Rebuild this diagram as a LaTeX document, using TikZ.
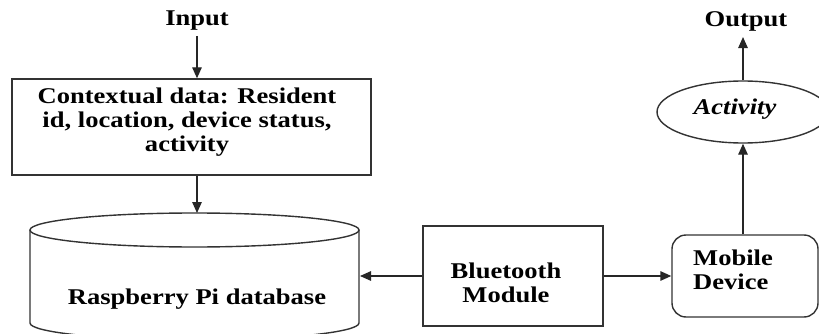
\documentclass[tikz,border=0pt]{standalone}
\usepackage{fontspec}
\setmainfont{Liberation Serif}[FakeStretch=1.18]
\usetikzlibrary{arrows.meta,shapes.geometric,calc}
\begin{document}
\begin{tikzpicture}[x=1pt,y=-1pt,
  every node/.append style={font=\fontsize{22.5}{24}\selectfont\bfseries},
  box/.style={draw=black!80, line width=1.4pt},
  arr/.style={draw=black!85, line width=1.4pt, -{Triangle[length=11pt,width=9.5pt]}},
  lbl/.style={inner sep=0pt, align=center}]
\useasboundingbox (0,0) rectangle (819,334);
% nodes
\node[lbl] (input) at (197,21) {Input};
\node[box, minimum width=359pt, minimum height=96pt] (ctx) at (191.5,127) {};
\node[lbl] (ctxt) at (187,122) {Contextual data: Resident\\id, location, device status,\\activity};
% database cylinder
\coordinate (dbtop) at (197,213);
\coordinate (dbright) at (360,276);
\draw[box] (194.5,230) ellipse [x radius=164.5pt, y radius=17pt];
\draw[box] (30,230) -- (30,323) arc[start angle=180, end angle=360, x radius=164.5pt, y radius=17pt] -- (359,230);
\node[lbl] (db) at (197,299) {Raspberry Pi database};
% bluetooth
\node[box, minimum width=180pt, minimum height=100pt] (bt) at (513,276) {};
\node[lbl] (btt) at (506,283) {Bluetooth\\Module};
% mobile
\node[box, rounded corners=14pt, minimum width=146pt, minimum height=82pt] (mob) at (745,276) {};
\node[lbl, anchor=west, align=left] (mobt) at (693,270) {Mobile\\Device};
% activity
\node[box, ellipse, minimum width=172pt, minimum height=62pt, inner sep=0pt] (act) at (743,112) {};
\node[lbl, font=\fontsize{22.5}{24}\selectfont\bfseries\itshape] (actt) at (735,109) {Activity};
\node[lbl] (output) at (746,21) {Output};
% connectors
\draw[arr] ($(input.south)+(0,-5pt)$) -- (input.south |- ctx.north);
\draw[arr] (input |- ctx.south) -- (dbtop);
\draw[arr] (bt.west) -- (dbright);
\draw[arr] (bt.east) -- (mob.west);
\draw[arr] (act.south |- mob.north) -- (act.south);
\draw[arr] (act.north) -- ($(act.north |- output.south)+(0,-6pt)$);
\end{tikzpicture}
\end{document}
